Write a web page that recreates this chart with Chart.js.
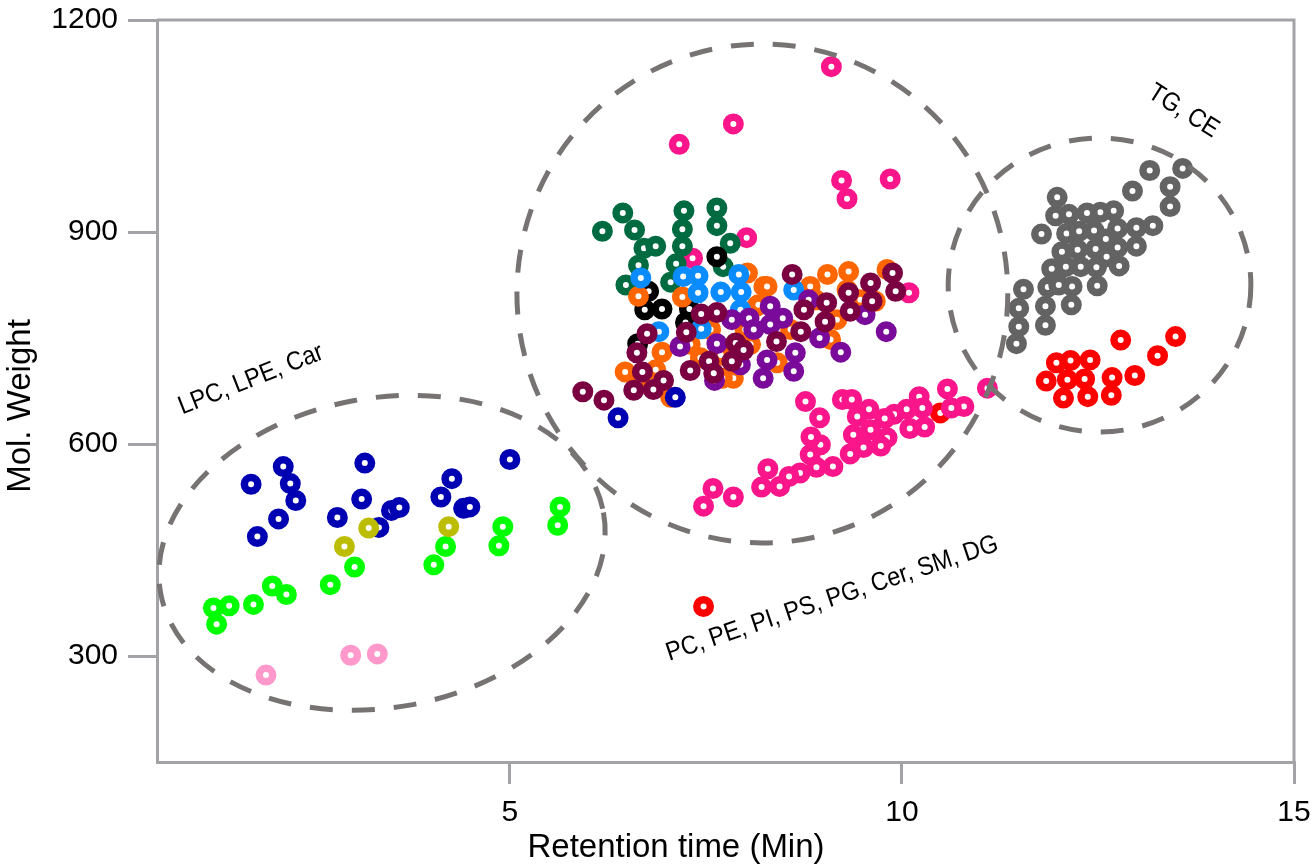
<!DOCTYPE html>
<html>
<head>
<meta charset="utf-8">
<title>Retention time vs Mol. Weight</title>
<script src="https://cdn.jsdelivr.net/npm/chart.js@4/dist/chart.umd.min.js"></script>
<style>
  html, body { margin: 0; padding: 0; background: #fff; }
  #wrap { width: 1314px; height: 865px; }
</style>
</head>
<body>
<div id="wrap"><canvas id="chart" width="1314" height="865"></canvas></div>
<script>
/* Lipid classes: retention time (min) vs molecular weight.
   Values, one array per colour group. */

var xTicks = [5, 10, 15];
var yTicks = [300, 600, 900, 1200];

// left cluster (LPC, LPE, Car)
var bluePts = [[1.70,543],[2.11,568],[2.20,544],[2.27,520],[2.05,494],[1.78,469],[3.15,573],[3.11,522],
  [2.80,496],[3.33,482],[3.49,506],[3.59,510],[4.26,551],[4.12,525],[4.41,509],[4.49,511],[5.00,578],
  [6.38,637],[7.11,666]];
var limePts = [[1.22,368],[1.42,371],[1.26,345],[1.73,373],[1.97,399],[2.15,387],[2.71,401],[3.02,426],
  [4.18,455],[4.03,429],[4.91,483],[4.86,456],[5.64,511],[5.61,485]];
var olivePts = [[3.20,481],[2.89,455],[4.22,483]];
var lightPinkPts = [[1.89,273],[2.97,301],[3.31,303]];

// middle cluster
var hotPinkPts = [[9.10,1134],[7.85,1053],[7.16,1024],[9.23,973],[9.30,947],[9.85,975],[8.02,892],
  [7.33,863],[10.09,814],
  [11.09,679],[10.58,678],[10.79,653],[10.63,651],[10.22,667],[10.26,651],[10.06,649],[10.29,624],
  [10.10,622],[9.90,642],[9.78,636],[9.81,609],[9.73,597],[9.60,620],[9.58,649],[9.43,639],[9.38,613],
  [9.51,595],[9.34,586],[9.24,663],[9.36,663],[9.12,568],[8.91,567],[8.70,559],[8.56,554],[8.44,540],
  [8.29,565],[8.21,539],[8.83,585],[8.96,599],[8.84,610],[8.95,637],[8.77,660],[7.85,525],[7.59,537],
  [7.47,512]];
var darkGreenPts = [[6.44,927],[6.18,901],[6.59,903],[6.71,877],[6.86,880],[6.64,853],[6.48,825],
  [7.22,930],[7.20,904],[7.20,880],[7.12,855],[7.05,829],[7.64,934],[7.64,909],[7.81,884],[7.72,851]];
var blackPts = [[7.64,865],[6.77,816],[6.72,790],[6.94,791],[7.29,791],[6.63,742],[7.24,772]];
var orangePts = [[6.47,702],[6.94,730],[7.05,666],[6.64,809],[7.20,808],[7.56,762],[7.85,693],[7.71,693],
  [8.24,823],[8.03,842],[8.15,795],[9.05,840],[9.32,844],[9.81,847],[8.83,823],[8.28,823],[8.17,797],
  [9.17,776],[9.09,748],[8.41,715],[9.66,802],[9.30,818],[7.43,722],[7.30,741],[8.00,762],[6.86,705],
  [7.69,726],[8.07,741],[8.58,762],[8.90,804],[9.47,804],[6.66,691]];
var lightBluePts = [[6.67,835],[7.21,837],[7.40,838],[7.40,814],[7.69,815],[7.92,840],[7.95,815],
  [7.94,790],[7.44,763],[6.90,759],[8.62,818]];
var purplePts = [[8.32,795],[8.48,778],[8.32,769],[8.64,729],[8.28,719],[8.23,693],[8.62,703],[8.95,750],
  [9.22,730],[9.80,759],[9.53,783],[8.81,804],[8.05,778],[7.17,738],[7.64,742],[7.61,690],[7.83,776],
  [8.11,762],[7.94,712]];
var maroonPts = [[5.93,674],[6.20,662],[6.75,756],[6.62,729],[6.69,702],[6.58,676],[6.83,677],[6.96,690],
  [7.25,758],[7.44,784],[7.64,786],[7.30,704],[7.54,717],[7.60,700],[7.83,717],[7.88,743],[7.98,733],
  [8.60,840],[9.88,842],[9.92,816],[9.60,828],[9.62,802],[9.32,814],[9.34,788],[9.04,800],[9.02,773],
  [8.75,790],[8.71,759],[8.40,745]];

// right cluster (TG, CE) and red group
var grayPts = [[13.16,987],[13.58,990],[13.42,964],[13.42,936],[12.94,958],[13.20,909],[12.99,906],
  [12.99,880],[12.75,905],[12.75,878],[12.77,852],[12.70,930],[12.53,928],[12.36,927],[12.13,925],
  [11.96,923],[11.98,949],[11.78,897],[12.10,898],[12.26,901],[12.45,902],[12.60,890],[12.47,876],
  [12.24,875],[12.04,872],[12.61,865],[12.48,850],[12.28,851],[11.91,848],[12.17,823],[12.49,824],
  [12.16,797],[11.86,822],[11.83,795],[11.83,768],[11.55,819],[11.49,792],[11.49,766],[11.46,742],
  [12.09,851],[12.00,825]];
var redPts = [[12.79,747],[13.49,752],[13.26,725],[12.97,697],[12.68,694],[12.67,669],[12.37,667],
  [12.33,692],[12.40,719],[12.15,718],[11.97,715],[12.11,691],[11.84,689],[12.06,665],[7.47,370],
  [10.49,644]];

// dashed group outlines, in data units (rotation in radians on screen)
var outlines = [
  { x: 3.37, y: 446, rx: 2.87, ry: 219, rot: -0.18 },
  { x: 8.22, y: 813, rx: 3.13, ry: 353, rot: 0 },
  { x: 12.52, y: 825, rx: 1.93, ry: 208, rot: 0 }
];

// group labels
var groupLabels = [
  { text: 'LPC, LPE, Car', x: 1.70, y: 691, angle: -21.5 },
  { text: 'TG, CE', x: 13.59, y: 1071, angle: 32 },
  { text: 'PC, PE, PI, PS, PG, Cer, SM, DG', x: 9.11, y: 381, angle: -18.5 }
];

var FONT = "'Liberation Sans', Arial, Helvetica, sans-serif";

function toPoints(pairs) {
  return pairs.map(function (p) { return { x: p[0], y: p[1] }; });
}

function ring(label, pairs, colour) {
  return {
    label: label,
    data: toPoints(pairs),
    borderColor: colour,
    backgroundColor: '#ffffff',
    pointRadius: 6.75,
    pointHoverRadius: 6.75,
    borderWidth: 7.5,
    pointBorderWidth: 7.5
  };
}

// outlines, frame, labels and axis titles
var overlayPlugin = {
  id: 'overlay',
  afterDatasetsDraw: function (chart) {
    var ctx = chart.ctx, a = chart.chartArea;
    var xs = chart.scales.x, ys = chart.scales.y;
    ctx.save();

    // top / right frame
    ctx.strokeStyle = '#a3a3a7';
    ctx.lineWidth = 3;
    ctx.beginPath();
    ctx.moveTo(a.left, a.top);
    ctx.lineTo(a.right, a.top);
    ctx.lineTo(a.right, a.bottom);
    ctx.stroke();

    // dashed ellipses
    ctx.strokeStyle = '#777373';
    ctx.lineWidth = 5;
    ctx.setLineDash([23, 19]);
    outlines.forEach(function (e) {
      var cx = xs.getPixelForValue(e.x), cy = ys.getPixelForValue(e.y);
      var rx = Math.abs(xs.getPixelForValue(e.x + e.rx) - cx);
      var ry = Math.abs(ys.getPixelForValue(e.y + e.ry) - cy);
      ctx.beginPath();
      ctx.ellipse(cx, cy, rx, ry, e.rot, 0, Math.PI * 2);
      ctx.stroke();
    });
    ctx.setLineDash([]);

    // rotated group labels
    ctx.fillStyle = '#000';
    ctx.font = '26px ' + FONT;
    ctx.textAlign = 'center';
    ctx.textBaseline = 'middle';
    groupLabels.forEach(function (l) {
      ctx.save();
      ctx.translate(xs.getPixelForValue(l.x), ys.getPixelForValue(l.y));
      ctx.rotate(l.angle * Math.PI / 180);
      ctx.scale(0.9, 1);
      ctx.fillText(l.text, 0, 0);
      ctx.restore();
    });

    // axis titles
    ctx.font = '33px ' + FONT;
    ctx.textBaseline = 'alphabetic';
    ctx.fillText('Retention time (Min)', 676, 857);
    ctx.save();
    ctx.translate(30, 406);
    ctx.rotate(-Math.PI / 2);
    ctx.fillText('Mol. Weight', 0, 0);
    ctx.restore();

    ctx.restore();
  }
};

var axisColour = '#a3a3a7';

function plainLabel(v) { return String(v); }

new Chart(document.getElementById('chart'), {
  type: 'scatter',
  data: {
    // first dataset is drawn on top
    datasets: [
      ring('LPC', lightPinkPts, '#ff99cc'),
      ring('Car', olivePts, '#bcbc00'),
      ring('LPE', limePts, '#00ff00'),
      ring('LPC2', bluePts, '#0000b3'),
      ring('PC', maroonPts, '#7b0042'),
      ring('PE', purplePts, '#7a0a99'),
      ring('PI', lightBluePts, '#0a8cff'),
      ring('PS', orangePts, '#ff6600'),
      ring('Cer', blackPts, '#000000'),
      ring('PG', darkGreenPts, '#006b40'),
      ring('SM', hotPinkPts, '#fa168a'),
      ring('TG', grayPts, '#636363'),
      ring('DG', redPts, '#ff0000')
    ]
  },
  options: {
    responsive: false,
    animation: false,
    events: [],
    layout: { padding: { top: 20, right: 20, left: 0, bottom: 0 } },
    plugins: {
      legend: { display: false },
      tooltip: { enabled: false }
    },
    scales: {
      x: {
        type: 'linear',
        min: 0.5,
        max: 15,
        afterBuildTicks: function (s) { s.ticks = xTicks.map(function (v) { return { value: v }; }); },
        afterFit: function (s) { s.height = 103; s.paddingLeft = 0; s.paddingRight = 0; },
        grid: { drawOnChartArea: false, drawTicks: true, tickLength: 22, color: axisColour, lineWidth: 3 },
        border: { display: true, color: axisColour, width: 3 },
        ticks: { color: '#000', font: { family: FONT, size: 30 }, padding: 11, maxRotation: 0, callback: plainLabel }
      },
      y: {
        type: 'linear',
        min: 150,
        max: 1200,
        afterBuildTicks: function (s) { s.ticks = yTicks.map(function (v) { return { value: v }; }); },
        afterFit: function (s) { s.width = 157; s.paddingTop = 0; s.paddingBottom = 0; },
        grid: { drawOnChartArea: false, drawTicks: true, tickLength: 29, color: axisColour, lineWidth: 3 },
        border: { display: true, color: axisColour, width: 3 },
        ticks: { color: '#000', font: { family: FONT, size: 30 }, padding: 10, callback: plainLabel }
      }
    }
  },
  plugins: [overlayPlugin]
});
</script>
</body>
</html>
